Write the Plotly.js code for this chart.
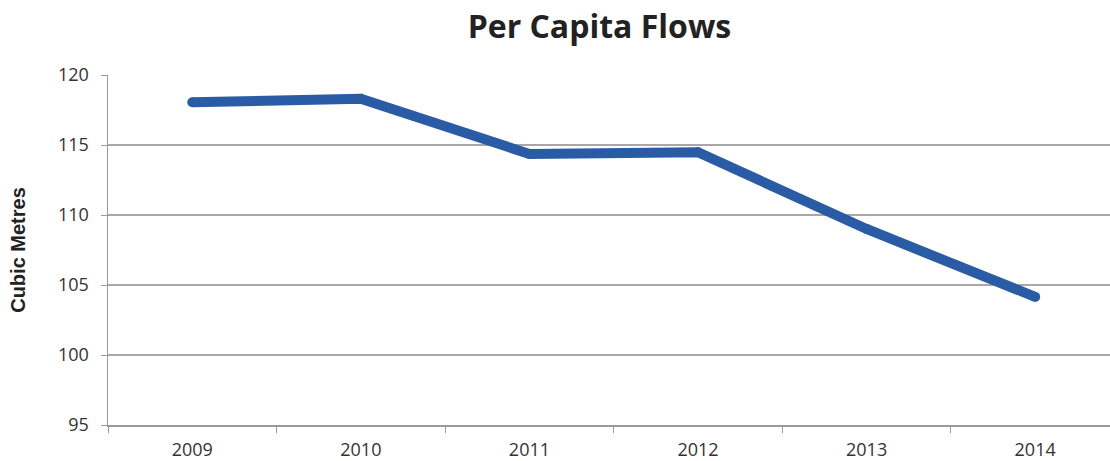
<!DOCTYPE html>
<html>
<head>
<meta charset="utf-8">
<script src="https://cdn.plot.ly/plotly-3.0.1.min.js"></script>
<style>html,body{margin:0;padding:0;background:#fff;}#chart{width:1110px;height:461px;}</style>
</head>
<body>
<div id="chart"></div>
<script>
const years = ['2009', '2010', '2011', '2012', '2013', '2014'];
const perCapitaFlows = [118.05, 118.3, 114.36, 114.48, 109.0, 104.15];
const yTicks = [95, 100, 105, 110, 115, 120];

const trace = {
  x: years,
  y: perCapitaFlows,
  type: 'scatter',
  mode: 'lines+markers',
  line: {color: '#2a5ca6', width: 10, shape: 'linear'},
  marker: {color: '#2a5ca6', size: 10, line: {width: 0}},
  hoverinfo: 'x+y'
};

const layout = {
  width: 1110,
  height: 461,
  margin: {l: 108, r: 0, t: 75, b: 36},
  paper_bgcolor: '#ffffff',
  plot_bgcolor: '#ffffff',
  showlegend: false,
  title: {
    text: '<b>Per Capita Flows</b>',
    font: {family: 'Open Sans, Liberation Sans, sans-serif', size: 32, color: '#222222'},
    x: 0.54, xanchor: 'center',
    y: 0.942, yanchor: 'middle'
  },
  xaxis: {
    type: 'category',
    range: [-0.5, 5.444],
    showgrid: false,
    showline: true,
    linecolor: '#9a9a9a',
    linewidth: 1.5,
    ticks: 'outside',
    ticklen: 6,
    tickcolor: '#9a9a9a',
    tickson: 'boundaries',
    ticklabelstandoff: 8,
    tickfont: {family: 'Open Sans, Liberation Sans, sans-serif', size: 18, color: '#333333'},
    fixedrange: true
  },
  yaxis: {
    range: [95, 120],
    tickvals: yTicks,
    ticktext: yTicks.map(String),
    showgrid: true,
    gridcolor: '#a8a8a8',
    gridwidth: 1.5,
    zeroline: false,
    showline: true,
    linecolor: '#9a9a9a',
    linewidth: 1.5,
    ticks: 'outside',
    ticklen: 6,
    tickcolor: '#9a9a9a',
    ticklabelstandoff: 8,
    tickfont: {family: 'Open Sans, Liberation Sans, sans-serif', size: 18, color: '#333333'},
    title: {
      text: '<b>Cubic Metres</b>',
      font: {family: 'Liberation Sans, Arial, sans-serif', size: 20, color: '#222222'},
      standoff: 27
    },
    fixedrange: true
  }
};

Plotly.newPlot('chart', [trace], layout, {displayModeBar: false, staticPlot: true});
</script>
</body>
</html>
